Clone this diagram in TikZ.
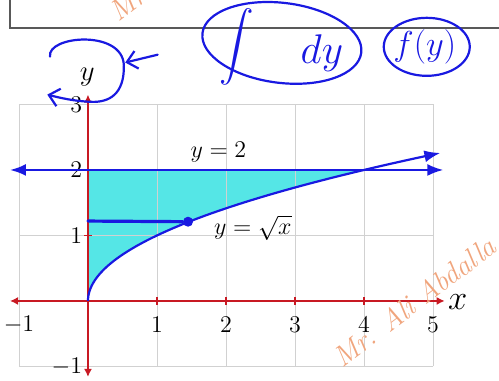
\documentclass[tikz,border=0pt]{standalone}
\usepackage{amsmath}
\usepackage{amssymb}
\usetikzlibrary{arrows.meta,positioning,calc,shapes.geometric}

\definecolor{axisred}{RGB}{200,25,35}
\definecolor{penblue}{RGB}{25,25,225}
\definecolor{areacyan}{RGB}{85,230,230}
\definecolor{markorange}{RGB}{240,165,125}

\begin{document}
\begin{tikzpicture}[x=34.5pt, y=32.75pt, >=Latex, every node/.style={font=\large},
  axisline/.style={axisred, line width=0.8pt, {Latex[length=4pt,width=4pt]}-{Latex[length=4pt,width=4pt]}},
  graphline/.style={penblue, line width=1.1pt},
  pen/.style={penblue, line width=1.1pt, line cap=round},
  ticklabel/.style={inner sep=1pt},
  watermark/.style={markorange, font=\itshape\Large, rotate=37, anchor=base west}]
\useasboundingbox (-1.275,-1.221) rectangle (5.957,4.595);

% box above the graph
\draw[gray!70!black, line width=0.7pt] (-1.13,4.7) -- (-1.13,4.17) -- (5.96,4.17);

% shaded region and grid
\fill[areacyan] (0,0) -- plot[domain=0:2, samples=50] ({\x*\x},\x) -- (0,2) -- cycle;
\draw[black!18, line width=0.4pt, step=1] (-1,-1) grid (5,3);

% axes
\draw[axisline] (-1.13,0) -- (5.17,0);
\draw[axisline] (0,-1.16) -- (0,3.15);
\foreach \k in {1,...,4}
  \draw[axisred, line width=0.6pt] (\k,-0.06) -- (\k,0.06);
\foreach \k in {1,2}
  \draw[axisred, line width=0.6pt] (-0.06,\k) -- (0.06,\k);
\foreach \k in {-1,1,2,3,4,5}
  \node[ticklabel] (xt\k) at (\k,-0.37) {$\pgfmathprintnumber{\k}$};
\foreach \k in {-1,1,2,3}
  \node[ticklabel, left] (yt\k) at (-0.05,\k) {$\pgfmathprintnumber{\k}$};
\node[font=\LARGE] (xlab) at (5.36,-0.02) {$x$};
\node[font=\Large] (ylab) at (-0.01,3.42) {$y$};

% the two graphs
\draw[graphline, <->] (-1.13,2) -- (5.15,2);
\draw[graphline, ->] plot[domain=0:2.26, samples=60] ({\x*\x},\x);
\node (liney) at (1.89,2.27) {$y = 2$};
\node (curvey) at (2.39,1.12) {$y = \sqrt{x}$};

% strip drawn by hand
\coordinate (strip0) at (0,1.22);
\node[circle, fill=penblue, inner sep=0pt, minimum size=5pt] (dot) at (1.45,1.21) {};
\draw[pen, line width=1.6pt] (strip0) -- (dot);

% notes by hand
\node[pen, draw, ellipse, minimum width=80pt, minimum height=40pt, rotate=-7] (intring) at (2.81,3.94) {};
\node[penblue, font=\LARGE] (intsign) at (2.15,3.88) {$\displaystyle\int$};
\node[penblue, font=\huge] (dy) at (3.39,3.78) {$dy$};
\node[pen, draw, ellipse, minimum width=43pt, minimum height=29pt] (fring) at (4.91,3.88) {};
\node[penblue, font=\LARGE] (fy) at (4.88,3.88) {$f(y)$};

\coordinate (loop0) at (-0.55,3.73);
\coordinate (loop1) at (0.52,3.6);
\coordinate (loop2) at (-0.59,3.15);
\draw[pen, -{Straight Barb[length=5pt,width=9pt]}] (loop0) .. controls (-0.6,4.05) and (0.5,4.15) .. (loop1)
  .. controls (0.53,3.15) and (0.3,3.03) .. (0.05,3.04) .. controls (-0.2,3.05) and (-0.4,3.1) .. (loop2);
\coordinate (hint0) at (1.01,3.76);
\coordinate (hint1) at (0.54,3.64);
\draw[pen, -{Straight Barb[length=5pt,width=9pt]}] (hint0) -- (hint1);

% watermarks
\node[watermark] (mark1) at (0.36,4.18) {Mr. Ali Abdalla};
\node[watermark] (mark2) at (3.6,-1.1) {Mr. Ali Abdalla};
\end{tikzpicture}
\end{document}
